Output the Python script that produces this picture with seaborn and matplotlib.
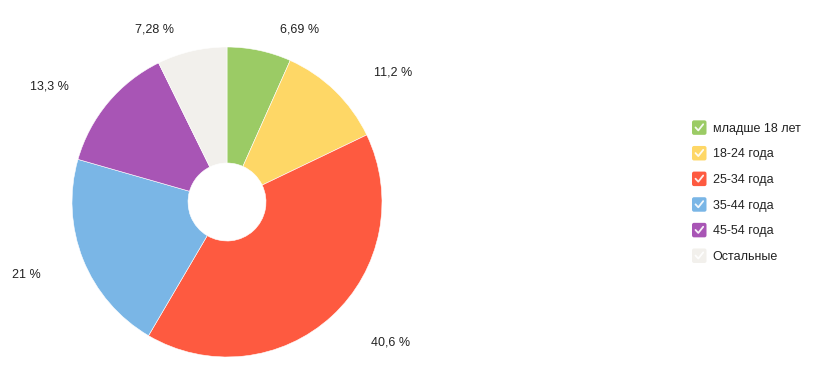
import numpy as np
import matplotlib
matplotlib.use("Agg")
import matplotlib.pyplot as plt
import seaborn as sns
from matplotlib.patches import FancyBboxPatch, Patch
from matplotlib.lines import Line2D
from matplotlib.legend_handler import HandlerBase

categories = ["младше 18 лет", "18-24 года", "25-34 года", "35-44 года", "45-54 года", "Остальные"]
values = [6.69, 11.2, 40.6, 21, 13.3, 7.28]
colors = ["#9BCB65", "#FED766", "#FE5A40", "#7AB6E6", "#A855B5", "#F2F0EC"]

sns.set_theme(style="white")
plt.rcParams['font.family'] = ['Liberation Sans', 'DejaVu Sans']

W, H = 814, 379
fig = plt.figure(figsize=(W / 100, H / 100), dpi=100)
ax = fig.add_axes([0, 0, 1, 1])

cx, cy, r, r_in = 227, 177, 155, 39
wedges, _ = ax.pie(values, colors=colors, startangle=90, counterclock=False,
                   center=(cx, cy), radius=r, frame=True,
                   wedgeprops=dict(width=r - r_in, edgecolor='white', linewidth=0.4))
ax.set_xlim(0, W)
ax.set_ylim(0, H)
ax.set_aspect('equal')
ax.axis('off')

# labels
for w, v in zip(wedges, values):
    th = np.deg2rad((w.theta1 + w.theta2) / 2)
    y = 1.2 * r * np.sin(th)
    clamped = abs(y) > 1.14 * r
    y = np.clip(y, -1.14 * r, 1.14 * r)
    R2 = (1.19 if clamped else 1.28) * r
    x = np.sign(np.cos(th)) * np.sqrt(max(R2 ** 2 - y ** 2, 0))
    txt = f"{v:g}".replace('.', ',') + " %"
    ax.text(cx + x, cy + y - 4, txt, ha='left' if x > 0 else 'right', va='center',
            fontsize=9, color='#222222')

PX = 0.72  # points per pixel at dpi 100


class HandlerCheck(HandlerBase):
    def create_artists(self, legend, orig_handle, xdescent, ydescent, width, height, fontsize, trans):
        s = 14.5 * PX
        p = 2 * PX
        x0 = width - s
        y0 = (height - s) / 2 - ydescent
        box = FancyBboxPatch((x0 + p, y0 + p), s - 2 * p, s - 2 * p,
                             boxstyle=f"round,pad={p}", facecolor=orig_handle.get_facecolor(),
                             edgecolor='none', transform=trans)
        xs = np.array([3.5, 6.3, 11.2]) * PX + x0
        ys = np.array([7.4, 4.4, 10.6]) * PX + y0
        chk = Line2D(xs, ys, color='white', lw=1.3, alpha=0.9, solid_capstyle='round',
                     solid_joinstyle='round', transform=trans)
        return [box, chk]


handles = [Patch(facecolor=c, label=l) for c, l in zip(colors, categories)]
leg = ax.legend(handles=handles, labels=categories, loc='upper left',
                bbox_to_anchor=(692 / W, 1 - 122 / H), frameon=False, fontsize=9,
                handler_map={Patch: HandlerCheck()}, handlelength=1.16, handleheight=1.0,
                handletextpad=0.5, labelspacing=1.02, borderaxespad=0, borderpad=0)
for t in leg.get_texts():
    t.set_color('#222222')

fig.savefig("out.png", dpi=100, facecolor='white')
